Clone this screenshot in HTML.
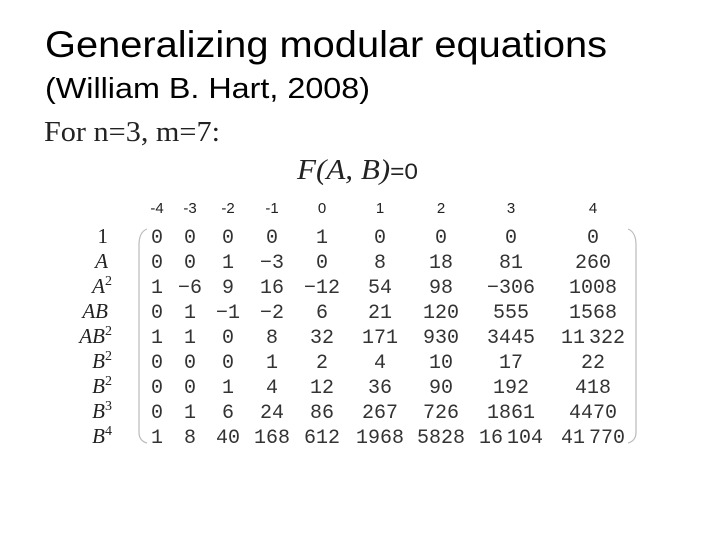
<!DOCTYPE html>
<html><head><meta charset="utf-8"><style>
html,body{margin:0;padding:0;background:#fff;width:720px;height:540px;overflow:hidden}
svg{display:block}
</style></head><body>
<svg id="s" width="720" height="540" xmlns="http://www.w3.org/2000/svg">
<text x="45" y="57" font-family="Liberation Sans, sans-serif" font-size="37" textLength="562" lengthAdjust="spacingAndGlyphs" fill="#000">Generalizing modular equations</text>
<text x="45" y="98" font-family="Liberation Sans, sans-serif" font-size="29" textLength="325" lengthAdjust="spacingAndGlyphs" fill="#000">(William B. Hart, 2008)</text>
<text x="44" y="141" font-family="Liberation Serif, serif" font-size="28" fill="#222" textLength="176" lengthAdjust="spacingAndGlyphs">For n=3, m=7:</text>
<text x="297" y="179" font-family="Liberation Serif, serif" font-size="28" font-style="italic" fill="#222" textLength="121" lengthAdjust="spacingAndGlyphs">F(A, B)<tspan font-style="normal" font-family="Liberation Sans, sans-serif" font-size="22">=0</tspan></text>
<path d="M147,229 Q139,232 139,245 L139,432 Q139,441 147,443" fill="none" stroke="#bbb" stroke-width="1.2"/>
<path d="M628,229 Q636,232 636,245 L636,432 Q636,441 628,443" fill="none" stroke="#bbb" stroke-width="1.2"/>
<g id="g"></g>
</svg>
<script>
const colHeaders = ["-4","-3","-2","-1","0","1","2","3","4"];
const rowLabels = [["1",""],["A",""],["A","2"],["AB",""],["AB","2"],["B","2"],["B","2"],["B","3"],["B","4"]];
const row0 = ["0","0","0","0","1","0","0","0","0"];
const row1 = ["0","0","1","-3","0","8","18","81","260"];
const row2 = ["1","-6","9","16","-12","54","98","-306","1008"];
const row3 = ["0","1","-1","-2","6","21","120","555","1568"];
const row4 = ["1","1","0","8","32","171","930","3445","11322"];
const row5 = ["0","0","0","1","2","4","10","17","22"];
const row6 = ["0","0","1","4","12","36","90","192","418"];
const row7 = ["0","1","6","24","86","267","726","1861","4470"];
const row8 = ["1","8","40","168","612","1968","5828","16104","41770"];
const rows = [row0,row1,row2,row3,row4,row5,row6,row7,row8];
const colX = [157,190,228,272,322,380,441,511,593];
const yRow = i => 243 + i*25;
const NS = "http://www.w3.org/2000/svg";
const g = document.getElementById('g');
function t(x,y,str,attrs){const e=document.createElementNS(NS,'text');e.setAttribute('x',x);e.setAttribute('y',y);for(const k in attrs)e.setAttribute(k,attrs[k]);e.textContent=str;g.appendChild(e);return e;}
colHeaders.forEach((h,j)=>{
  const e=t(colX[j],213,h,{'font-family':'Liberation Sans, sans-serif','font-size':'15','fill':'#222','text-anchor':'middle'});
  
  
});
rowLabels.forEach((r,i)=>{
  const e=t(r[1]?112:108,yRow(i),r[0],{'font-family':'Liberation Serif, serif','font-size':'21','font-style':r[0]==="1"?'normal':'italic','fill':'#222','text-anchor':'end'});
  if(r[1]){const s=document.createElementNS(NS,'tspan');s.setAttribute('dy','-8');s.setAttribute('font-size','14');s.setAttribute('font-style','normal');s.textContent=r[1];e.appendChild(s);}
  
  
});
rows.forEach((r,i)=>r.forEach((v,j)=>{
  const disp = v.startsWith('-') ? '\u2212'+v.slice(1) : (v.length>4 ? v.slice(0,v.length-3)+'\u2009'+v.slice(-3) : v);
  const e=t(colX[j],yRow(i),disp,{'font-family':'Liberation Mono, monospace','font-size':'20','fill':'#333','text-anchor':'middle'});
  
  
}));
</script>
</body></html>
